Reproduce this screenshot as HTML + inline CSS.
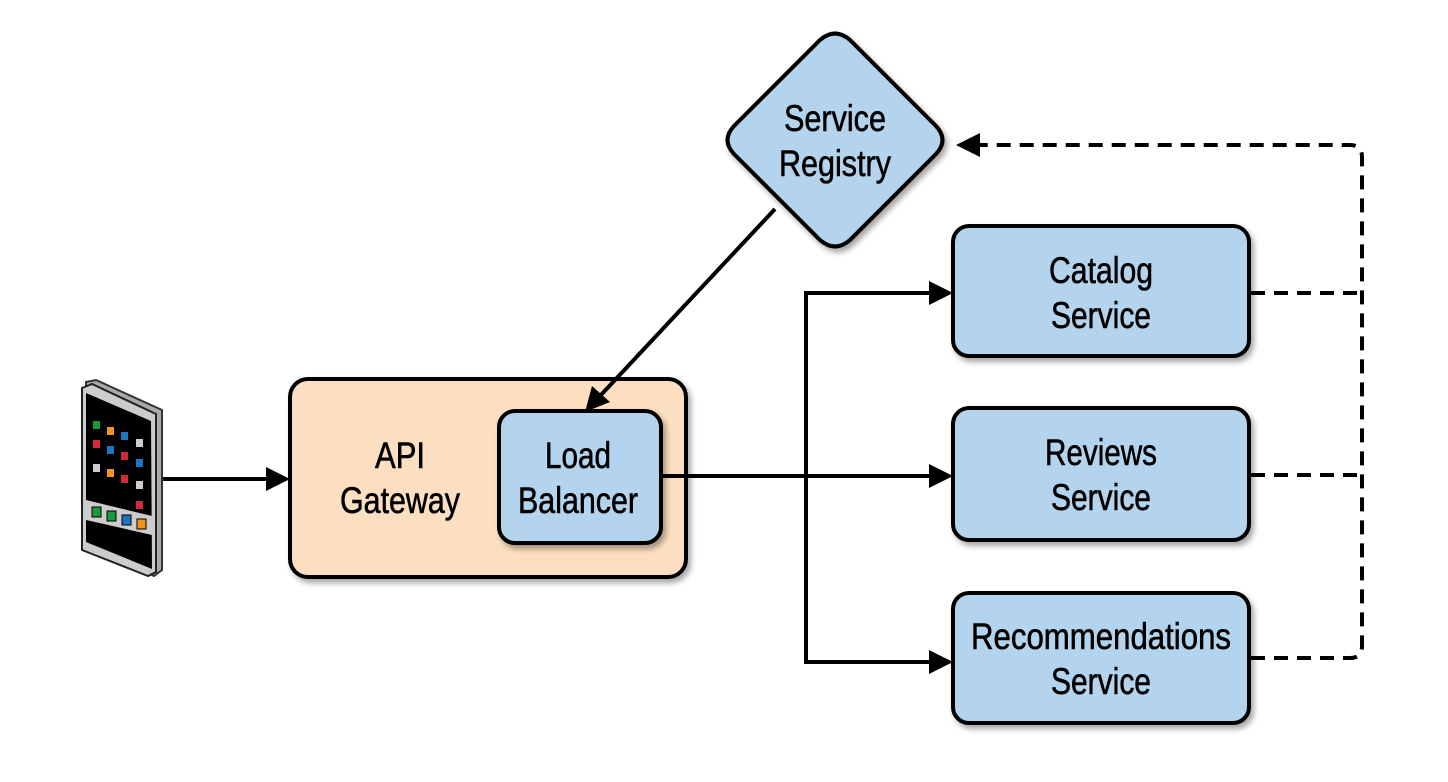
<!DOCTYPE html>
<html><head><meta charset="utf-8"><style>html,body{margin:0;padding:0;background:#fff}svg{display:block}</style></head>
<body>
<svg width="1448" height="782" viewBox="0 0 1448 782" xmlns="http://www.w3.org/2000/svg">
<defs>
<filter id="sh" x="-10%" y="-10%" width="130%" height="130%"><feDropShadow dx="3" dy="4" stdDeviation="3" flood-color="#000" flood-opacity="0.35"/></filter>
</defs>
<g font-family="'Liberation Sans', sans-serif" font-size="37" fill="#000" text-anchor="middle" stroke="#000" stroke-width="0.6">
<rect x="290" y="379" width="396" height="198" rx="18" fill="#fbdfc0" stroke="#000" stroke-width="4" filter="url(#sh)"/>
<text x="400" y="468" textLength="50" lengthAdjust="spacingAndGlyphs">API</text>
<text x="400" y="513" textLength="120" lengthAdjust="spacingAndGlyphs">Gateway</text>
<rect x="499" y="411" width="162" height="132" rx="16" fill="#b3d4ec" stroke="#000" stroke-width="4" filter="url(#sh)"/>
<text x="578" y="468" textLength="66" lengthAdjust="spacingAndGlyphs">Load</text>
<text x="578" y="513" textLength="120" lengthAdjust="spacingAndGlyphs">Balancer</text>
<path d="M 820 40 Q 835 27 850 40 L 936 126 Q 949 140 936 154 L 850 240 Q 835 253 820 240 L 734 154 Q 721 140 734 126 Z" fill="#b3d4ec" stroke="#000" stroke-width="4" filter="url(#sh)"/>
<text x="835" y="131" textLength="102" lengthAdjust="spacingAndGlyphs">Service</text>
<text x="835" y="176" textLength="112" lengthAdjust="spacingAndGlyphs">Registry</text>
<rect x="953" y="226" width="296" height="130" rx="16" fill="#b3d4ec" stroke="#000" stroke-width="4" filter="url(#sh)"/>
<text x="1101" y="283" textLength="104" lengthAdjust="spacingAndGlyphs">Catalog</text>
<text x="1101" y="328" textLength="100" lengthAdjust="spacingAndGlyphs">Service</text>
<rect x="953" y="408" width="296" height="132" rx="16" fill="#b3d4ec" stroke="#000" stroke-width="4" filter="url(#sh)"/>
<text x="1101" y="465" textLength="112" lengthAdjust="spacingAndGlyphs">Reviews</text>
<text x="1101" y="510" textLength="100" lengthAdjust="spacingAndGlyphs">Service</text>
<rect x="953" y="593" width="296" height="130" rx="16" fill="#b3d4ec" stroke="#000" stroke-width="4" filter="url(#sh)"/>
<text x="1101" y="649" textLength="260" lengthAdjust="spacingAndGlyphs">Recommendations</text>
<text x="1101" y="694" textLength="100" lengthAdjust="spacingAndGlyphs">Service</text>
</g>
<g stroke="#000" stroke-width="4" fill="none">
<line x1="162" y1="479" x2="268" y2="479"/>
<line x1="661" y1="476" x2="930" y2="476"/>
<polyline points="930,293 806,293 806,662 930,662"/>
<line x1="775" y1="209" x2="600" y2="396"/>
<g stroke-dasharray="14,9">
<line x1="1251" y1="293" x2="1362" y2="293"/>
<line x1="1251" y1="475" x2="1362" y2="475"/>
<path d="M 1251 658 L 1350 658 Q 1362 658 1362 646 L 1362 157 Q 1362 145 1350 145 L 980 145"/>
</g>
</g>
<g fill="#000">
<polygon points="290,479 266,467 266,491"/>
<polygon points="953,476 929,464 929,488"/>
<polygon points="953,293 929,281 929,305"/>
<polygon points="953,662 929,650 929,674"/>
<polygon points="956,145 980,133 980,157"/>
<polygon points="585,412 592,386 610,402"/>
</g>
<g>
<polygon points="86,382 96,380 162,410 162,570 154,576 86,548" fill="#aaa" stroke="#333" stroke-width="2"/>
<polygon points="82,388 92,384 156,414 156,572 148,576 82,550" fill="#ccc" stroke="#222" stroke-width="2"/>
<polygon points="86,393 151,421 152,569 86,542" fill="#000"/>
<polygon points="86,500 152,516 152,535 86,520" fill="#ccc"/>
<g stroke="none">
<rect x="93" y="421" width="7" height="8" fill="#1a9a3a"/><rect x="107" y="427" width="7" height="8" fill="#f0941f"/><rect x="121" y="432" width="7" height="8" fill="#1b75c4"/><rect x="136" y="439" width="7" height="8" fill="#ccc"/>
<rect x="93" y="440" width="7" height="8" fill="#d22a3a"/><rect x="107" y="446" width="7" height="8" fill="#1b75c4"/><rect x="121" y="452" width="7" height="8" fill="#d22a3a"/><rect x="136" y="459" width="7" height="8" fill="#1b75c4"/>
<rect x="93" y="464" width="7" height="8" fill="#ccc"/><rect x="107" y="469" width="7" height="8" fill="#f0941f"/><rect x="121" y="475" width="7" height="8" fill="#d22a3a"/><rect x="136" y="481" width="7" height="8" fill="#ccc"/>
<rect x="136" y="501" width="7" height="8" fill="#d22a3a"/>
<rect x="92" y="507" width="9" height="10" fill="#1a9a3a" stroke="#000"/><rect x="107" y="511" width="9" height="10" fill="#1a9a3a" stroke="#000"/><rect x="122" y="515" width="9" height="10" fill="#1b75c4" stroke="#000"/><rect x="137" y="519" width="9" height="10" fill="#f0941f" stroke="#000"/>
</g>
</g>
</svg>
</body></html>
